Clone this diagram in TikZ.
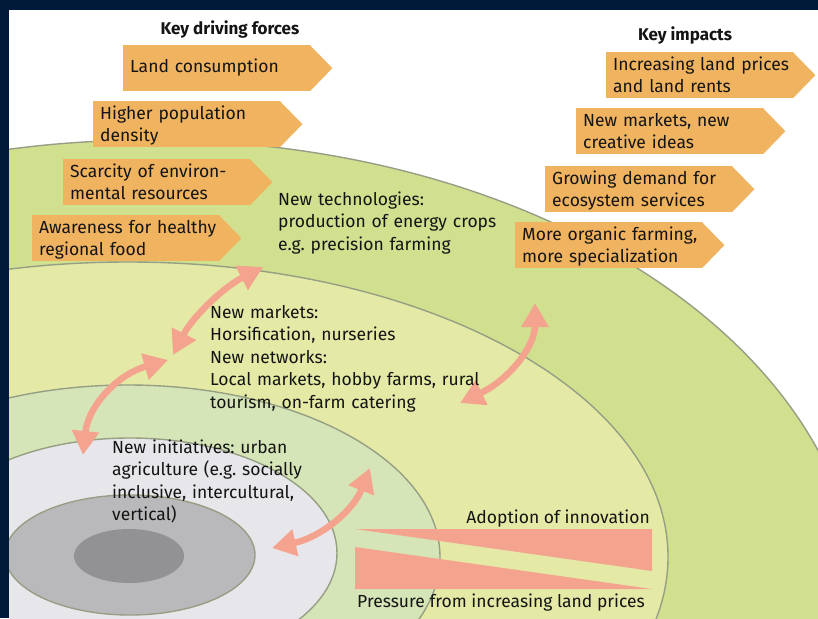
\documentclass[tikz,border=0pt]{standalone}
\usepackage{fontspec}
\setmainfont{Fira Sans}
\usetikzlibrary{arrows.meta}
\frenchspacing
\definecolor{navy}{RGB}{2,26,58}
\definecolor{gOuter}{RGB}{208,224,143}
\definecolor{gSecond}{RGB}{228,234,166}
\definecolor{gThird}{RGB}{214,229,183}
\definecolor{grLight}{RGB}{231,231,235}
\definecolor{grMid}{RGB}{185,185,187}
\definecolor{grDark}{RGB}{146,146,148}
\definecolor{ringline}{RGB}{150,158,132}
\definecolor{orangebox}{RGB}{240,180,96}
\definecolor{salmon}{RGB}{244,164,142}
\definecolor{ink}{RGB}{20,20,20}
\newcommand{\boxpad}{\rightskip=-40pt plus 1fil\relax}
\begin{document}
\begin{tikzpicture}[x=1pt,y=-1pt,
  every node/.style={text=ink, font=\fontsize{17.5}{22.5}\selectfont},
  ring/.style={draw=ringline, line width=1.4pt},
  forcebox/.style={fill=orangebox, anchor=north west, text width=173pt, inner xsep=7pt, inner ysep=0pt, minimum height=46pt, align=left, text height=12pt, text depth=22pt},
  onebox/.style={forcebox, text depth=4pt},
  txt/.style={anchor=base west, inner sep=0pt, align=left, text width=320pt},
  heading/.style={anchor=base, inner sep=0pt, font=\fontsize{17}{22.5}\selectfont\bfseries},
  wedgefill/.style={fill=salmon},
  twoway/.style={draw=salmon, line width=6.5pt, {Triangle[length=24pt,width=26pt]}-{Triangle[length=24pt,width=26pt]}},
]
\useasboundingbox (0,0) rectangle (818,618);
\fill[white] (0,0) rectangle (818,618);

% concentric zones
\begin{scope}
\clip (9,10) rectangle (818,618);
\filldraw[ring, fill=gOuter] (150,610) ellipse [x radius=710pt, y radius=470pt];
\filldraw[ring, fill=gSecond] (128,557) ellipse [x radius=540pt, y radius=295pt];
\filldraw[ring, fill=gThird] (128,557) ellipse [x radius=312pt, y radius=172pt];
\filldraw[ring, fill=grLight] (130,553) ellipse [x radius=207pt, y radius=115pt];
\filldraw[ring, fill=grMid] (130,555) ellipse [x radius=125pt, y radius=60pt];
\fill[grDark] (129,556) ellipse [x radius=55pt, y radius=27pt];
\end{scope}

% wedges
\fill[wedgefill] (355,529) -- (652,529) -- (652,571) -- cycle;
\fill[wedgefill] (355,547) -- (355,589) -- (652,589) -- cycle;
\node[anchor=base east, inner sep=0pt] (adopt) at (650,523) {Adoption of innovation};
\node[anchor=base west, inner sep=0pt] (press) at (357,607) {Pressure from increasing land prices};

% two-way arrows
\coordinate (a1s) at (263,267);
\coordinate (a1e) at (173,355);
\coordinate (a2s) at (168,360);
\coordinate (a2e) at (83,455);
\coordinate (a3s) at (370,468);
\coordinate (a3e) at (272,548);
\coordinate (a4s) at (535,303);
\coordinate (a4e) at (460,403);
\draw[twoway] (a1s) .. controls +(-41,21) and +(19,-37) .. (a1e);
\draw[twoway] (a2s) .. controls +(-52,15) and +(5,-48) .. (a2e);
\draw[twoway] (a3s) .. controls +(-17,43) and +(49,-11) .. (a3e);
\draw[twoway] (a4s) .. controls +(0,43) and +(50,-24) .. (a4e);

% zone texts
\node[txt] (tech) at (278,205) {New technologies:\\production of energy crops\\e.g. precision farming};
\node[txt] (mkts) at (210,318) {New markets:\\Horsification, nurseries\\New networks:\\Local markets, hobby farms, rural\\tourism, on-farm catering};
\node[txt] (init) at (112,453) {New initiatives: urban\\agriculture (e.g. socially\\inclusive, intercultural,\\vertical)};

% headings
\node[heading] (hdrive) at (230,35) {Key driving forces};
\node[heading] (himpact) at (685,41) {Key impacts};

% driving forces
\node[onebox] (d1) at (123,45) {\boxpad Land consumption};
\node[forcebox] (d2) at (93,101) {\boxpad Higher population\\density};
\node[forcebox] (d3) at (63,159) {\boxpad Scarcity of environ-\\mental resources};
\node[forcebox] (d4) at (32,215) {\boxpad Awareness for healthy\\regional food};
% impacts
\node[forcebox] (i1) at (606,52) {\boxpad Increasing land prices\\and land rents};
\node[forcebox] (i2) at (576,108) {\boxpad New markets, new\\creative ideas};
\node[forcebox] (i3) at (545,166) {\boxpad Growing demand for\\ecosystem services};
\node[forcebox] (i4) at (515,222) {\boxpad More organic farming,\\more specialization};
\foreach \b in {d1,d2,d3,d4,i1,i2,i3,i4}{
  \fill[orangebox] ([xshift=-0.6pt]\b.north east) -- ([xshift=22pt]\b.east) -- ([xshift=-0.6pt]\b.south east) -- cycle;
}

% frame
\fill[navy] (0,0) rectangle (818,10);
\fill[navy] (0,0) rectangle (9,618);
\end{tikzpicture}
\end{document}
